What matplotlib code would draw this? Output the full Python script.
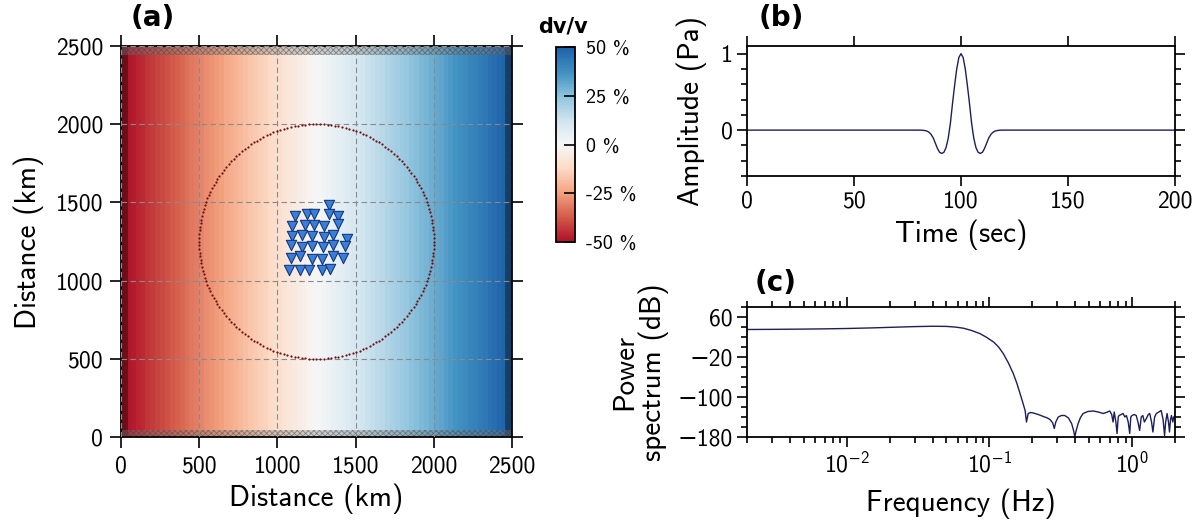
import numpy as np
import matplotlib
matplotlib.use('Agg')
import matplotlib.pyplot as plt
from matplotlib.colors import LinearSegmentedColormap
from matplotlib.patches import Rectangle
import matplotlib.ticker as mticker

plt.rcParams['font.family'] = ['cmss10', 'DejaVu Sans']
plt.rcParams['mathtext.fontset'] = 'custom'
plt.rcParams['mathtext.rm'] = 'cmss10'
plt.rcParams['mathtext.it'] = 'cmss10'
plt.rcParams['mathtext.bf'] = 'cmss10'
plt.rcParams['mathtext.sf'] = 'cmss10'
plt.rcParams['mathtext.fallback'] = 'stixsans'
plt.rcParams['axes.formatter.use_mathtext'] = False
plt.rcParams['hatch.linewidth'] = 0.6

# ---------------- data ----------------
map_limits = [0, 2500]
map_ticks = [0, 500, 1000, 1500, 2000, 2500]
dvv_limits = [-50, 50]
cbar_ticks = [-50, -25, 0, 25, 50]
cbar_labels = ['-50 %', '-25 %', '0 %', '25 %', '50 %']
circle_center = [1250, 1250]
circle_radius = 750

station_x = [1330,
             1113, 1191, 1236, 1330, 1389,
             1093, 1176, 1236, 1300, 1389,
             1093, 1159, 1223, 1300, 1357, 1443,
             1087, 1159, 1223, 1293, 1357, 1432,
             1087, 1145, 1219, 1283, 1357, 1418,
             1076, 1145, 1204, 1287, 1336]
station_y = [1483,
             1413, 1424, 1424, 1426, 1413,
             1349, 1356, 1356, 1349, 1360,
             1285, 1292, 1285, 1281, 1292, 1266,
             1228, 1213, 1221, 1217, 1228, 1221,
             1146, 1157, 1138, 1138, 1157, 1143,
             1068, 1068, 1068, 1068, 1074]

time_s = [0,
          78, 79, 80, 81, 82, 83, 84, 85, 86, 87, 88, 89, 90, 91, 92, 93, 94, 95, 96, 97, 98, 99,
          100,
          101, 102, 103, 104, 105, 106, 107, 108, 109, 110, 111, 112, 113, 114, 115, 116, 117,
          118, 119, 120, 121, 122,
          200]
amplitude_pa = [0,
                0, 0, 0, 0, -0.002, -0.005, -0.012, -0.027, -0.055, -0.10, -0.17, -0.24,
                -0.29, -0.305, -0.29, -0.23, -0.11, 0.08, 0.34, 0.58, 0.80, 0.95,
                1.00,
                0.95, 0.80, 0.58, 0.34, 0.08, -0.11, -0.23, -0.29, -0.305, -0.29, -0.24,
                -0.17, -0.10, -0.055, -0.027, -0.012, -0.005, -0.002, 0, 0, 0, 0,
                0]

freq_hz = [0.002, 0.003, 0.005, 0.007, 0.01, 0.015, 0.02, 0.03, 0.04, 0.05, 0.058,
           0.066, 0.075, 0.086, 0.096, 0.107, 0.116, 0.125, 0.136, 0.147, 0.156,
           0.164, 0.171, 0.178, 0.182, 0.187, 0.195, 0.203, 0.22, 0.239, 0.255,
           0.266, 0.278, 0.285, 0.292, 0.304, 0.32, 0.338, 0.358, 0.377, 0.39,
           0.397, 0.405, 0.419, 0.435, 0.454, 0.49, 0.533, 0.58, 0.627, 0.66,
           0.698, 0.72, 0.736, 0.75, 0.77, 0.785, 0.80, 0.811, 0.84, 0.865, 0.89,
           0.913, 0.94, 0.963, 0.98, 1.0, 1.035, 1.07, 1.10, 1.13, 1.16, 1.19,
           1.22, 1.26, 1.30, 1.33, 1.37, 1.40, 1.44, 1.48, 1.54, 1.60, 1.65,
           1.69, 1.72, 1.76, 1.80, 1.83, 1.86, 1.89, 1.93, 1.96, 2.0]
power_db = [35, 35.3, 35.8, 36.3, 37, 38.2, 39.3, 40.8, 41.5, 41.2, 39.8,
            37.5, 33, 26.7, 19, 10, 0, -13, -32, -53, -73,
            -93, -110, -127, -150, -133, -131, -132, -135, -139, -142,
            -145, -152, -163, -150, -140, -137, -137, -142, -153, -168,
            -180, -168, -153, -141, -133, -129, -128, -130, -133, -131,
            -128, -135, -150, -130, -150, -173, -140, -137, -135, -133, -140,
            -137, -150, -173, -140, -137, -135, -137, -150, -167, -140, -137,
            -150, -143, -135, -133, -150, -170, -140, -133, -130, -127, -145,
            -177, -150, -133, -150, -170, -145, -137, -150, -140, -138]

# ---------------- figure ----------------
fig = plt.figure(figsize=(12.02, 5.27), dpi=100)
W, H = 1202, 527

def box(x0, y0, x1, y1):
    return [x0 / W, 1 - y1 / H, (x1 - x0) / W, (y1 - y0) / H]

line_col = '#1b1f5c'
tick_fs = 17
label_fs = 21

# ---- panel (a) ----
ax = fig.add_axes(box(121, 46, 512, 437))
base = plt.get_cmap('RdBu')
cmap = LinearSegmentedColormap.from_list('rdbu_trunc', base(np.linspace(0.09, 0.91, 256)))
xg = np.linspace(dvv_limits[0], dvv_limits[1], 80)[None, :]
im = ax.imshow(xg, extent=[map_limits[0], map_limits[1], map_limits[0], map_limits[1]],
               origin='lower', cmap=cmap, vmin=dvv_limits[0], vmax=dvv_limits[1],
               aspect='auto', interpolation='nearest', zorder=0)
# absorbing boundaries
bw = 45
ax.add_patch(Rectangle((0, 0), bw, 2500, facecolor='black', alpha=0.35, lw=0, zorder=1))
ax.add_patch(Rectangle((2500 - bw, 0), bw, 2500, facecolor='black', alpha=0.35, lw=0, zorder=1))
for y0, h in [(0, 45), (2500 - 55, 55)]:
    ax.add_patch(Rectangle((0, y0), 2500, h, facecolor=(0.5, 0.5, 0.5, 0.35), lw=0, zorder=1))
    ax.add_patch(Rectangle((0, y0), 2500, h, fill=False, hatch='xxxxxx',
                           edgecolor=(0.25, 0.25, 0.25, 0.5), lw=0, zorder=1))
ax.set_xlim(map_limits)
ax.set_ylim(map_limits)
ax.set_xticks(map_ticks)
ax.set_yticks(map_ticks)
ax.grid(True, ls=(0, (5, 3)), color='#8a8a8a', lw=0.8, zorder=2)
ax.set_axisbelow(False)
th = np.linspace(0, 2 * np.pi, 200, endpoint=False)
ax.plot(circle_center[0] + circle_radius * np.cos(th),
        circle_center[1] + circle_radius * np.sin(th),
        ls='none', marker='o', ms=1.6, mew=0, color='#6e1010', zorder=3)
ax.scatter(station_x, station_y, marker='v', s=55, facecolor='#3a7ddb',
           edgecolor='#123a7a', linewidth=0.8, zorder=4)
ax.tick_params(direction='out', length=8, width=1.2, top=True, right=True,
               labelsize=tick_fs, pad=5)
ax.set_xlabel('Distance (km)', fontsize=label_fs, labelpad=5)
ax.set_ylabel('Distance (km)', fontsize=label_fs, labelpad=8)
for s in ax.spines.values():
    s.set_linewidth(1.3)

# colorbar
cax = fig.add_axes(box(556, 47, 575, 242))
cb = fig.colorbar(im, cax=cax, ticks=cbar_ticks)
cb.ax.set_yticklabels(cbar_labels)
cb.ax.tick_params(direction='in', length=8, width=1.2, labelsize=14.5, pad=8)
cb.outline.set_linewidth(1.3)
fig.text(563 / W, 1 - 27 / H, 'dv/v', fontsize=15, fontweight='bold',
         family='DejaVu Sans', ha='center', va='center')

# ---- panel (b) ----
axb = fig.add_axes(box(747, 46, 1175, 176))
axb.plot(time_s, amplitude_pa, color=line_col, lw=1.0)
axb.set_xlim(0, 200)
axb.set_ylim(-0.6, 1.1)
axb.set_xticks([0, 50, 100, 150, 200])
axb.set_yticks([0, 1])
axb.yaxis.set_minor_locator(mticker.MultipleLocator(0.2))
axb.tick_params(which='both', direction='out', top=True, right=True, width=1.2,
                labelsize=tick_fs)
axb.tick_params(which='major', length=7)
axb.tick_params(which='minor', length=4)
axb.set_xlabel('Time (sec)', fontsize=label_fs, labelpad=5)
axb.set_ylabel('Amplitude (Pa)', fontsize=label_fs, labelpad=10)
for s in axb.spines.values():
    s.set_linewidth(1.3)

# ---- panel (c) ----
axc = fig.add_axes(box(747, 307, 1175, 437))
axc.semilogx(freq_hz, power_db, color=line_col, lw=1.0)
axc.set_xlim(0.002, 2)
axc.set_ylim(-180, 80)
axc.set_yticks([60, -20, -100, -180])
axc.yaxis.set_minor_locator(mticker.MultipleLocator(20))
axc.yaxis.set_major_formatter(mticker.FuncFormatter(
    lambda v, p: ('\u2212%d' % abs(round(v))) if v < 0 else '%d' % round(v)))
axc.xaxis.set_major_locator(mticker.LogLocator(base=10))
axc.xaxis.set_major_formatter(mticker.FuncFormatter(
    lambda v, p: r'$\mathrm{10^{%d}}$' % round(np.log10(v))))
axc.xaxis.set_minor_formatter(mticker.NullFormatter())
axc.tick_params(which='both', direction='out', top=True, right=True, width=1.2,
                labelsize=tick_fs)
axc.tick_params(which='major', length=7)
axc.tick_params(which='minor', length=4)
axc.set_xlabel('Frequency (Hz)', fontsize=label_fs, labelpad=8)
axc.set_ylabel('Power\nspectrum (dB)', fontsize=label_fs, labelpad=6, linespacing=1.0)
for s in axc.spines.values():
    s.set_linewidth(1.3)

# panel letters
for txt, x, y in [('(a)', 153, 18), ('(b)', 781, 18), ('(c)', 776, 283)]:
    fig.text(x / W, 1 - y / H, txt, fontsize=20, fontweight='bold',
             family='DejaVu Sans', ha='center', va='center')

fig.savefig('out.png', dpi=100)
